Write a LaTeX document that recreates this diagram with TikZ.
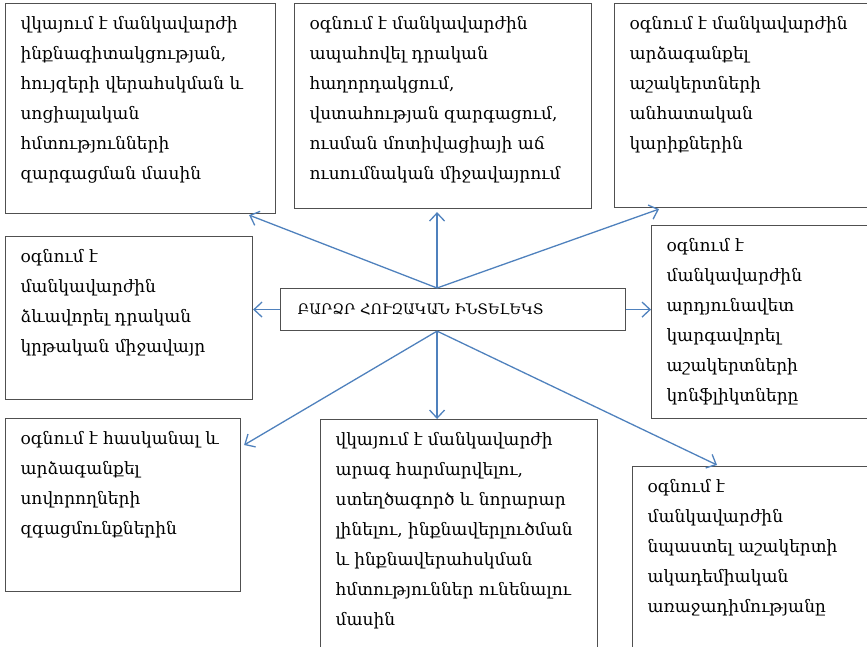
\documentclass[tikz,border=0pt]{standalone}
\usepackage{fontspec}
\setmainfont{DejaVu Serif}
\usetikzlibrary{positioning,calc,arrows.meta}
\definecolor{boxgray}{RGB}{80,80,80}
\definecolor{linkblue}{RGB}{79,129,189}
% box with a fixed size, text from the top left corner
\newcommand{\ideabox}[3]{\parbox[t][#2][t]{#1}{\leftskip=15pt\rightskip=0pt plus 1fil\rule{0pt}{26pt}#3}}

\begin{document}
\begin{tikzpicture}[x=1pt,y=-1pt,font=\fontsize{17}{30}\selectfont]
    \tikzstyle{idea}=[draw=boxgray, line width=1.1pt, anchor=north west, inner sep=0pt]
    \tikzstyle{link}=[draw=linkblue, line width=1.3pt, -{Straight Barb[length=8pt,width=15pt]}]
    \path[use as bounding box, clip] (0,0) rectangle (867,646);

    \node[idea, minimum width=345pt, minimum height=42pt, inner xsep=17pt, text width=311pt, align=left, font=\fontsize{14.5}{17}\selectfont] (mid) at (280,288) {ԲԱՐՁՐ ՀՈՒԶԱԿԱՆ ԻՆՏԵԼԵԿՏ};

    \node[idea] (tl) at (5,3) {\ideabox{270pt}{210pt}{վկայում է մանկավարժի\\ ինքնագիտակցության,\\ հույզերի վերահսկման և\\ սոցիալական\\ հմտությունների\\ զարգացման մասին}};
    \node[idea] (tm) at (294,3) {\ideabox{297pt}{205pt}{օգնում է մանկավարժին\\ ապահովել դրական\\ հաղորդակցում,\\ վստահության զարգացում,\\ ուսման մոտիվացիայի աճ\\ ուսումնական միջավայրում}};
    \node[idea] (tr) at (614,3) {\ideabox{270pt}{204pt}{օգնում է մանկավարժին\\ արձագանքել\\ աշակերտների\\ անհատական\\ կարիքներին}};
    \node[idea] (ml) at (5,236) {\ideabox{247pt}{163pt}{օգնում է\\ մանկավարժին\\ ձևավորել դրական\\ կրթական միջավայր}};
    \node[idea] (mr) at (651,225) {\ideabox{250pt}{193pt}{օգնում է\\ մանկավարժին\\ արդյունավետ\\ կարգավորել\\ աշակերտների\\ կոնֆլիկտները}};
    \node[idea] (bl) at (5,418) {\ideabox{235pt}{173pt}{օգնում է հասկանալ և\\ արձագանքել\\ սովորողների\\ զգացմունքներին}};
    \node[idea] (bm) at (320,419) {\ideabox{277pt}{240pt}{վկայում է մանկավարժի\\ արագ հարմարվելու,\\ ստեղծագործ և նորարար\\ լինելու, ինքնավերլուծման\\ և ինքնավերահսկման\\ հմտություններ ունենալու\\ մասին}};
    \node[idea] (br) at (632,466) {\ideabox{250pt}{200pt}{օգնում է\\ մանկավարժին\\ նպաստել աշակերտի\\ ակադեմիական\\ առաջադիմությանը}};

    \coordinate (hubtop) at ($(mid.north)+(-16,0)$);
    \coordinate (hubbot) at ($(mid.south)+(-16,0)$);

    \draw[link] (hubtop) -- ($(tl.south east)+(-27,1)$);
    \draw[link] (hubtop) -- ($(hubtop |- tm.south)+(0,3)$);
    \draw[link] (hubtop) -- ($(tr.south west)+(45,1)$);
    \draw[link] (mid.west) -- (mid.west -| ml.east);
    \draw[link] (mid.east) -- (mid.east -| mr.west);
    \draw[link] (hubbot) -- ($(bl.north east)+(3,27)$);
    \draw[link] (hubbot) -- (hubbot |- bm.north);
    \draw[link] (hubbot) -- ($(br.north west)+(85,-1)$);
\end{tikzpicture}
\end{document}
